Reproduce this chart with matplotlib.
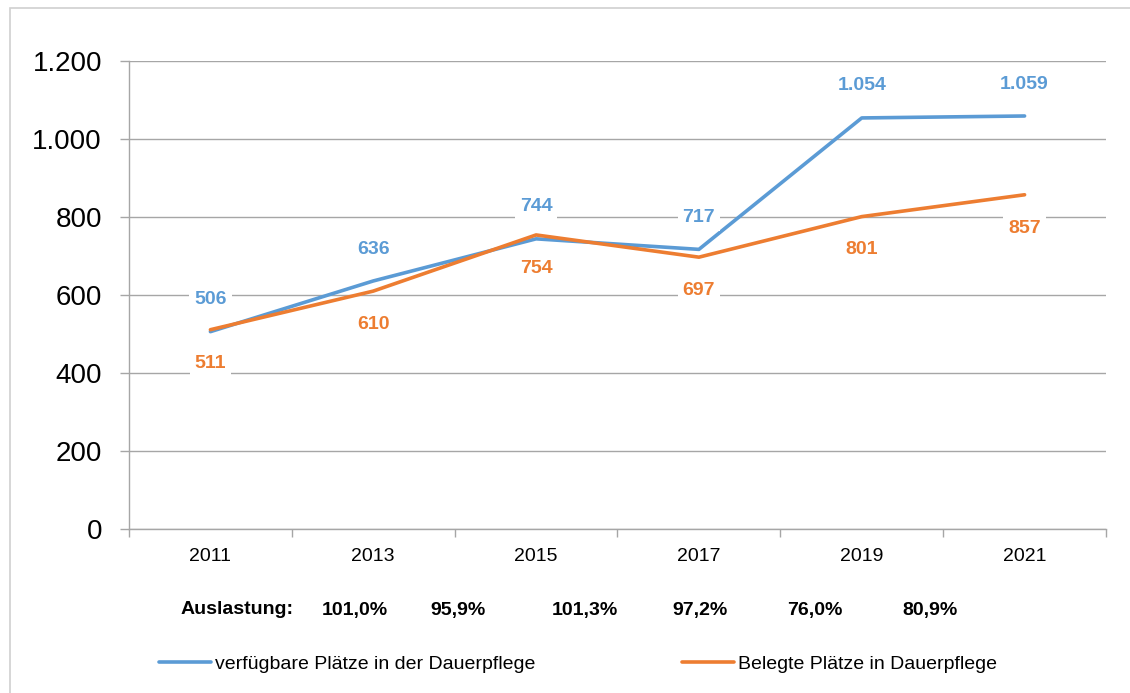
import numpy as np
import matplotlib.pyplot as plt
from matplotlib.patches import Rectangle
from matplotlib.ticker import FuncFormatter

plt.rcParams['font.family'] = ['Liberation Sans', 'DejaVu Sans']

# Data
years = ['2011', '2013', '2015', '2017', '2019', '2021']
verfuegbar = [506, 636, 744, 717, 1054, 1059]
belegt = [511, 610, 754, 697, 801, 857]
auslastung = ['101,0%', '95,9%', '101,3%', '97,2%', '76,0%', '80,9%']

blue = '#5B9BD5'
orange = '#ED7D31'
grid_col = '#A6A6A6'

fig = plt.figure(figsize=(11.3, 6.93), dpi=100)
ax = fig.add_axes([129 / 1130, 1 - 529 / 693, (1106 - 129) / 1130, (529 - 61) / 693])

# light outer frame
fig.patches.append(Rectangle((10 / 1130, -0.1), 1.2, 1 - 8 / 693 + 0.1, transform=fig.transFigure,
                             fill=False, ec='#D0D0D0', lw=1.2))

x = np.arange(len(years))
ax.plot(x, verfuegbar, color=blue, lw=2.6, solid_capstyle='round', zorder=3,
        label='verfügbare Plätze in der Dauerpflege')
ax.plot(x, belegt, color=orange, lw=2.6, solid_capstyle='round', zorder=3,
        label='Belegte Plätze in Dauerpflege')

box = dict(boxstyle='square,pad=0.25', fc='white', ec='none')
for xi, v in zip(x, verfuegbar):
    ax.annotate(f'{v:,}'.replace(',', '.'), (xi, v), xytext=(0, 23), textcoords='offset points',
                ha='center', va='center', color=blue, fontsize=14, fontweight='bold', bbox=box, zorder=5)
for xi, v in zip(x, belegt):
    ax.annotate(f'{v:,}'.replace(',', '.'), (xi, v), xytext=(0, -24), textcoords='offset points',
                ha='center', va='center', color=orange, fontsize=14, fontweight='bold', bbox=box, zorder=5)

ax.set_xlim(-0.5, len(years) - 0.5)
ax.set_ylim(0, 1200)
ax.set_yticks(np.arange(0, 1201, 200))
ax.yaxis.set_major_formatter(FuncFormatter(lambda v, p: f'{int(v):,}'.replace(',', '.')))
ax.grid(axis='y', color=grid_col, lw=1)
ax.set_axisbelow(True)

ax.set_xticks(np.arange(-0.5, len(years), 1))
ax.set_xticklabels([])
ax.set_xticks(x, minor=True)
ax.set_xticklabels(years, minor=True)
ax.tick_params(axis='x', which='major', length=6, color=grid_col, width=1)
ax.tick_params(axis='x', which='minor', length=0, pad=14, labelsize=14)
ax.tick_params(axis='y', length=6.5, color=grid_col, width=1, labelsize=20, pad=13)

for s in ['top', 'right']:
    ax.spines[s].set_visible(False)
for s in ['left', 'bottom']:
    ax.spines[s].set_color(grid_col)
    ax.spines[s].set_linewidth(1)

# Auslastung row
fig.text(237 / 1130, 1 - 610 / 693, 'Auslastung:', ha='center', va='center', fontsize=14, fontweight='bold')
for xp, a in zip([355, 458, 585, 700, 815, 930], auslastung):
    fig.text(xp / 1130, 1 - 610 / 693, a, ha='center', va='center', fontsize=14, fontweight='bold')

# legend
handles, labels = ax.get_legend_handles_labels()
fig.legend([handles[0]], [labels[0]], loc='center left', bbox_to_anchor=(141 / 1130, 1 - 664 / 693),
           frameon=False, fontsize=14, handlelength=2.7, handletextpad=0.2)
fig.legend([handles[1]], [labels[1]], loc='center left', bbox_to_anchor=(664 / 1130, 1 - 664 / 693),
           frameon=False, fontsize=14, handlelength=2.7, handletextpad=0.2)

fig.savefig('out.png', dpi=100)
